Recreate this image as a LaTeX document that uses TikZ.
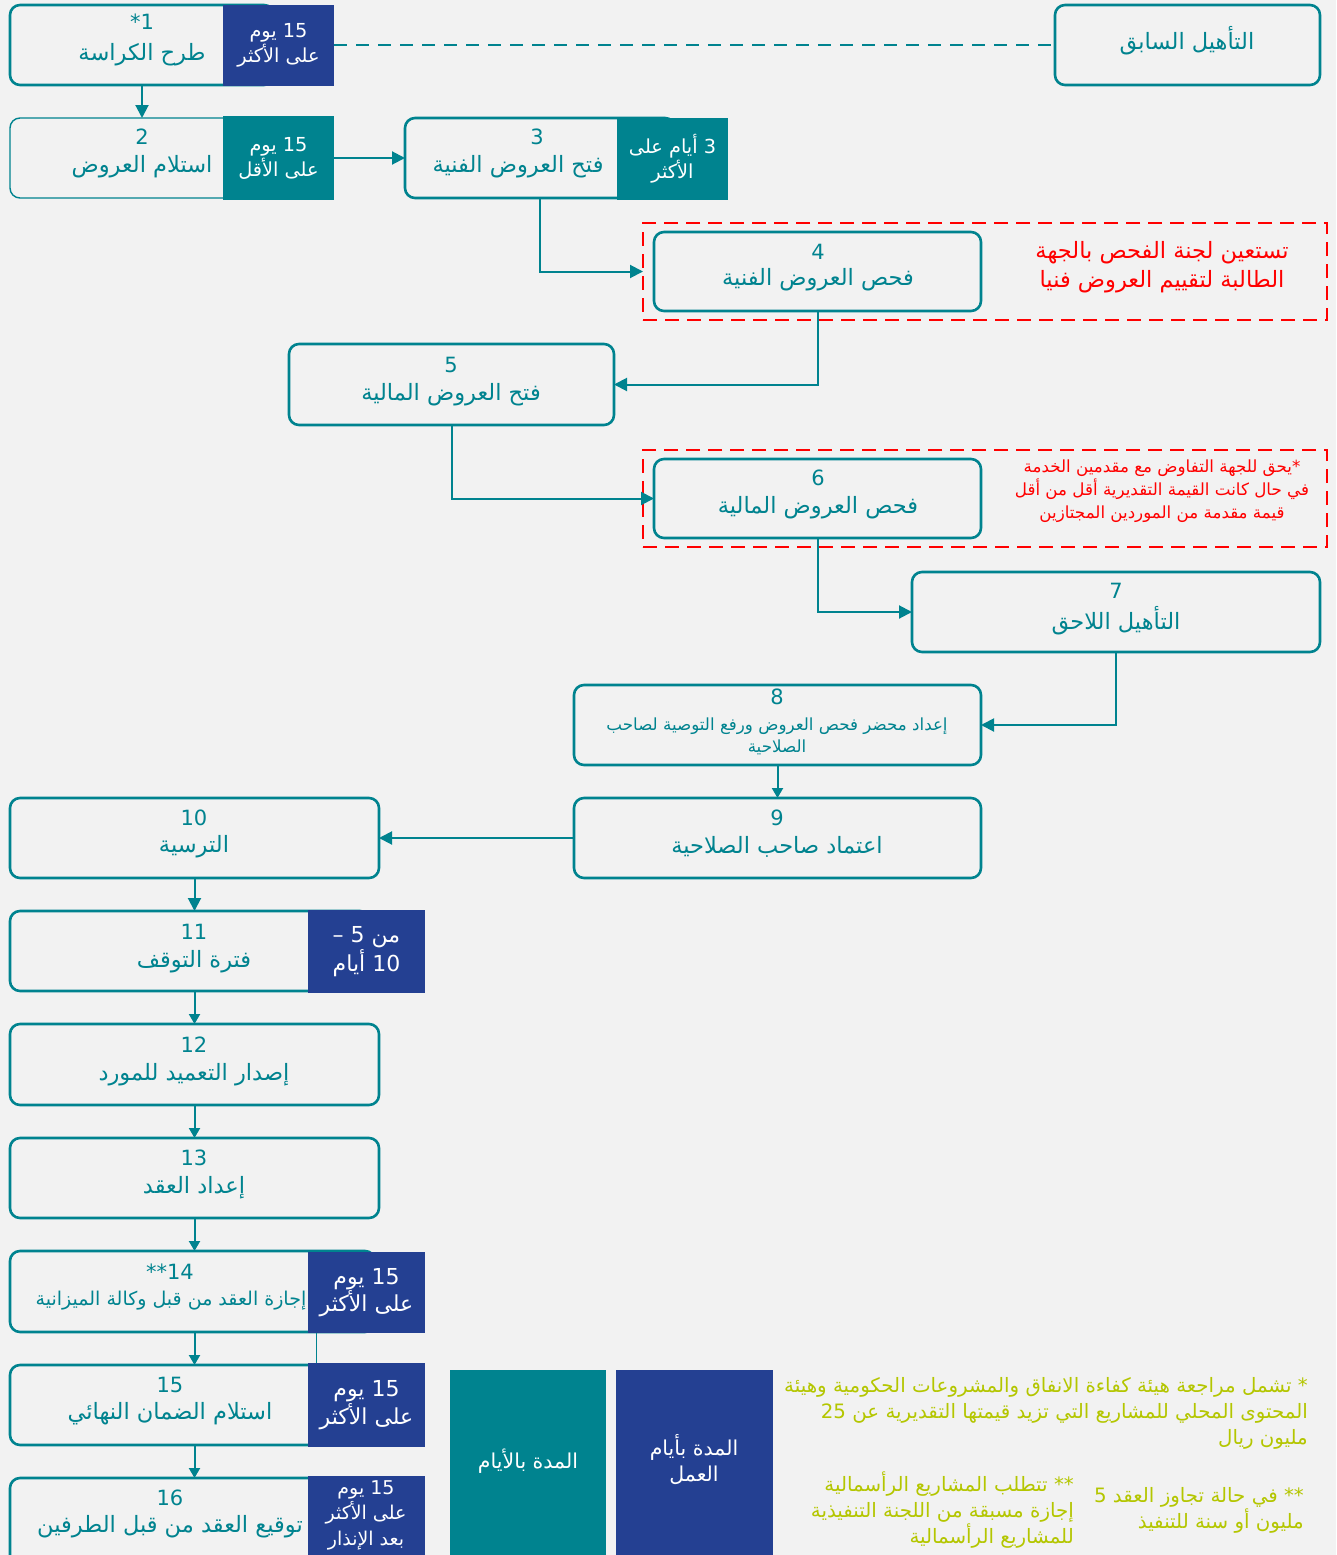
\documentclass[tikz,border=0pt]{standalone}
\usepackage{fontspec}
\setmainfont{DejaVu Sans}
\newfontfamily\arfont[Script=Arabic]{DejaVu Sans}
\TeXXeTstate=1
\usetikzlibrary{arrows.meta,calc}
\definecolor{bgc}{RGB}{242,242,242}
\definecolor{tealc}{RGB}{0,131,143}
\definecolor{navyc}{RGB}{36,64,146}
\definecolor{redc}{RGB}{255,0,0}
\definecolor{limec}{RGB}{180,198,0}
\newcommand\artxt[1]{\beginR #1\endR}
\newcommand\mkbox[7]{\node[#6, minimum width={(#4-#2)*1pt}, minimum height={(#5-#3)*1pt}] (#1) at ({(#2+#4)/2},{(#3+#5)/2}) {#7};}
\tikzset{
  box/.style={draw=tealc, line width=2.6pt, rounded corners=10pt, inner sep=0pt, outer sep=0pt},
  thinbox/.style={box, line width=1.4pt},
  reddash/.style={draw=redc, line width=2pt, dash pattern=on 14pt off 8pt, inner sep=0pt, outer sep=0pt},
  navytag/.style={fill=navyc, draw=none, inner sep=0pt, outer sep=0pt, text=white, align=center, font=\arfont\fontsize{22}{26}\selectfont},
  tealtag/.style={navytag, fill=tealc},
  smalltag/.style={font=\arfont\fontsize{19.3}{25}\selectfont},
  num/.style={text=tealc, inner sep=0pt, font=\fontsize{21}{25}\selectfont},
  lbl/.style={text=tealc, inner sep=0pt, align=center, font=\arfont\fontsize{22.5}{25}\selectfont},
  smalllbl/.style={lbl, font=\arfont\fontsize{16.7}{22}\selectfont},
  whitetxt/.style={text=white, inner sep=0pt, align=center, font=\arfont\fontsize{20.5}{26}\selectfont},
  rednote/.style={text=redc, inner sep=0pt, align=center, font=\arfont\fontsize{22.5}{29}\selectfont},
  rednotes/.style={text=redc, inner sep=0pt, align=center, font=\arfont\fontsize{16.7}{23}\selectfont},
  limenote/.style={text=limec, inner sep=0pt, align=right, font=\arfont\fontsize{19.8}{26}\selectfont},
  arr/.style={draw=tealc, line width=2pt, -{Triangle[length=13pt,width=13pt]}},
  sarr/.style={draw=tealc, line width=2pt, -{Triangle[length=10pt,width=11pt]}},
  dashcon/.style={draw=tealc, line width=2pt, dash pattern=on 13pt off 9pt},
}
\begin{document}
\begin{tikzpicture}[x=1pt,y=-1pt]
\useasboundingbox (0,0) rectangle (1336,1555);
\fill[bgc] (0,0) rectangle (1336,1555);
\clip (0,0) rectangle (1336,1555);

% step 1
\mkbox{b1}{10}{5}{274}{85}{box}{}
\mkbox{tag1}{223}{5}{334}{86}{navytag,smalltag}{\artxt{15 يوم}\\\artxt{على الأكثر}}
\node[num] (n1) at (142,22) {*1};
\node[lbl] (t1) at (142,55) {\artxt{طرح الكراسة}};

% prequalification
\mkbox{pre}{1055}{5}{1320}{85}{box}{}
\node[lbl] (tpre) at (1187,41) {\artxt{التأهيل السابق}};

% step 2
\mkbox{b2}{10}{118}{274}{198}{thinbox}{}
\mkbox{tag2}{223}{116}{334}{200}{tealtag,smalltag}{\artxt{15 يوم}\\\artxt{على الأقل}}
\node[num] (n2) at (142,137) {2};
\node[lbl] (t2) at (142,167) {\artxt{استلام العروض}};

% step 3
\mkbox{b3}{405}{118}{675}{198}{box}{}
\mkbox{tag3}{617}{118}{728}{200}{tealtag,smalltag}{\artxt{3 أيام على}\\\artxt{الأكثر}}
\node[num] (n3) at (537,137) {3};
\node[lbl] (t3) at (518,167) {\artxt{فتح العروض الفنية}};

% step 4
\mkbox{red1}{643}{223}{1327}{320}{reddash}{}
\mkbox{b4}{654}{232}{981}{311}{box}{}
\node[num] (n4) at (818,252) {4};
\node[lbl] (t4) at (818,280) {\artxt{فحص العروض الفنية}};
\node[rednote] (rn1) at (1162,267) {\artxt{تستعين لجنة الفحص بالجهة}\\\artxt{الطالبة لتقييم العروض فنيا}};

% step 5
\mkbox{b5}{289}{344}{614}{425}{box}{}
\node[num] (n5) at (451,365) {5};
\node[lbl] (t5) at (451,395) {\artxt{فتح العروض المالية}};

% step 6
\mkbox{red2}{643}{450}{1327}{547}{reddash}{}
\mkbox{b6}{654}{459}{981}{538}{box}{}
\node[num] (n6) at (818,478) {6};
\node[lbl] (t6) at (818,508) {\artxt{فحص العروض المالية}};
\node[rednotes] (rn2) at (1162,491) {\artxt{*يحق للجهة التفاوض مع مقدمين الخدمة}\\\artxt{في حال كانت القيمة التقديرية أقل من أقل}\\\artxt{قيمة مقدمة من الموردين المجتازين}};

% step 7
\mkbox{b7}{912}{572}{1320}{652}{box}{}
\node[num] (n7) at (1116,591) {7};
\node[lbl] (t7) at (1116,621) {\artxt{التأهيل اللاحق}};

% step 8
\mkbox{b8}{574}{685}{981}{765}{box}{}
\node[num] (n8) at (777,697) {8};
\node[smalllbl] (t8) at (777,736) {\artxt{إعداد محضر فحص العروض ورفع التوصية لصاحب}\\\artxt{الصلاحية}};

% step 9
\mkbox{b9}{574}{798}{981}{878}{box}{}
\node[num] (n9) at (777,818) {9};
\node[lbl] (t9) at (777,847) {\artxt{اعتماد صاحب الصلاحية}};

% step 10
\mkbox{b10}{10}{798}{379}{878}{box}{}
\node[num] (n10) at (194,818) {10};
\node[lbl] (t10) at (194,847) {\artxt{الترسية}};

% step 11
\mkbox{b11}{10}{911}{370}{991}{box}{}
\mkbox{tag11}{308}{910}{425}{993}{navytag}{\artxt{من 5 –}\\\artxt{10 أيام}}
\node[num] (n11) at (194,932) {11};
\node[lbl] (t11) at (194,962) {\artxt{فترة التوقف}};

% step 12
\mkbox{b12}{10}{1024}{379}{1105}{box}{}
\node[num] (n12) at (194,1045) {12};
\node[lbl] (t12) at (194,1075) {\artxt{إصدار التعميد للمورد}};

% step 13
\mkbox{b13}{10}{1138}{379}{1218}{box}{}
\node[num] (n13) at (194,1158) {13};
\node[lbl] (t13) at (194,1188) {\artxt{إعداد العقد}};

% step 14
\mkbox{b14}{10}{1251}{375}{1332}{box}{}
\mkbox{tag14}{308}{1252}{425}{1333}{navytag}{\artxt{15 يوم}\\\artxt{على الأكثر}}
\node[num] (n14) at (170,1272) {**14};
\node[lbl, font=\arfont\fontsize{19}{22}\selectfont] (t14) at (171,1301) {\artxt{إجازة العقد من قبل وكالة الميزانية}};

% step 15
\mkbox{b15}{10}{1365}{375}{1445}{box}{}
\mkbox{tag15}{308}{1363}{425}{1447}{navytag}{\artxt{15 يوم}\\\artxt{على الأكثر}}
\node[num] (n15) at (170,1385) {15};
\node[lbl] (t15) at (170,1414) {\artxt{استلام الضمان النهائي}};

% step 16
\mkbox{b16}{10}{1478}{375}{1575}{box}{}
\mkbox{tag16}{308}{1476}{425}{1575}{navytag}{}
\node[whitetxt, font=\arfont\fontsize{19}{25.5}\selectfont] (tt16) at (366,1515) {\artxt{15 يوم}\\\artxt{على الأكثر}\\\artxt{بعد الإنذار}};
\node[num] (n16) at (170,1498) {16};
\node[lbl] (t16) at (170,1527) {\artxt{توقيع العقد من قبل الطرفين}};

% legend
\mkbox{leg1}{450}{1370}{606}{1575}{tealtag}{}
\node[whitetxt] (lt1) at (528,1461) {\artxt{المدة بالأيام}};
\mkbox{leg2}{616}{1370}{773}{1575}{navytag}{}
\node[whitetxt] (lt2) at (694,1460) {\artxt{المدة بأيام}\\\artxt{العمل}};

% notes
\node[limenote, anchor=east] (ln1) at (1308,1413) {\artxt{* تشمل مراجعة هيئة كفاءة الانفاق والمشروعات الحكومية وهيئة}\\\artxt{المحتوى المحلي للمشاريع التي تزيد قيمتها التقديرية عن 25}\\\artxt{مليون ريال}};
\node[limenote, anchor=east] (ln2) at (1304,1510) {\artxt{** في حالة تجاوز العقد 5}\\\artxt{مليون أو سنة للتنفيذ}};
\node[limenote, anchor=east] (ln3) at (1074,1510) {\artxt{** تتطلب المشاريع الرأسمالية}\\\artxt{إجازة مسبقة من اللجنة التنفيذية}\\\artxt{للمشاريع الرأسمالية}};

% connectors
\draw[dashcon] (tag1.east) -- (tag1.east -| pre.west);
\draw[arr] (b1.south) -- (b2.north);
\draw[arr] (tag2.east) -- (b3.west);
\draw[arr] (b3.south) |- (red1.west);
\draw[arr] (b4.south) |- (b5.east);
\draw[arr] (b5.south) |- (b6.west);
\draw[arr] (b6.south) |- (b7.west);
\draw[arr] (b7.south) |- (b8.east);
\draw[sarr] (b8.south) -- (b9.north);
\draw[arr] (b9.west) -- (b10.east);
\draw[arr] (b10.south) -- (b10.south |- b11.north);
\draw[sarr] (b12.north |- b11.south) -- (b12.north);
\draw[sarr] (b12.south) -- (b13.north);
\draw[sarr] (b13.south) -- (b13.south |- b14.north);
\draw[sarr] (b13.south |- b14.south) -- (b13.south |- b15.north);
\draw[sarr] (b13.south |- b15.south) -- (b13.south |- b16.north);
\draw[draw=tealc, line width=1pt] ($(tag14.south west)+(8,0)$) -- ($(tag15.north west)+(8,0)$);
\end{tikzpicture}
\end{document}
